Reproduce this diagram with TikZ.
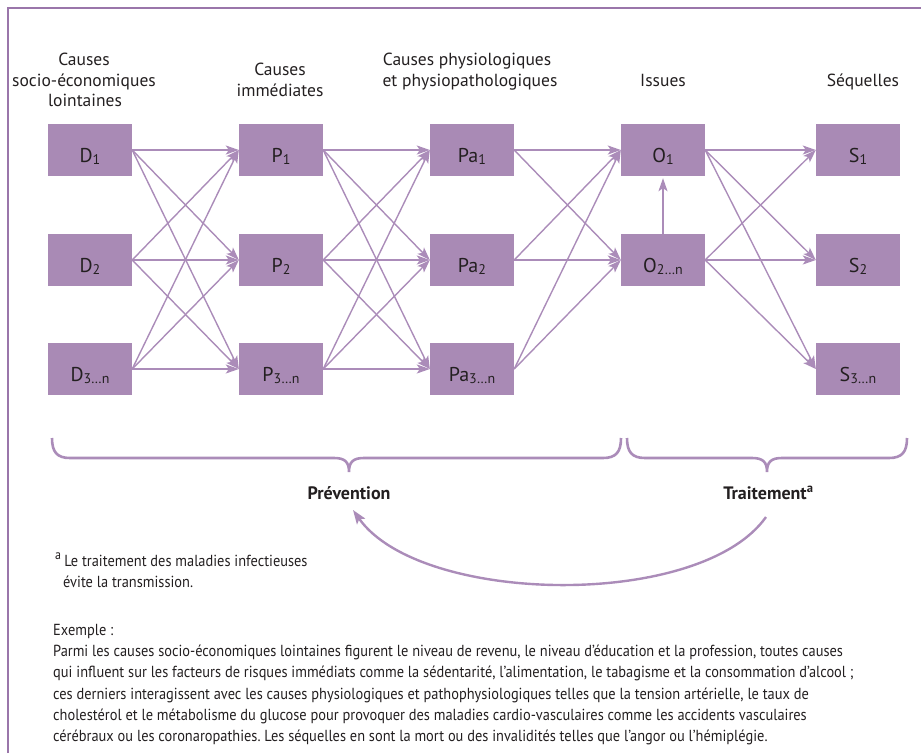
\documentclass[tikz,border=0pt]{standalone}
\usepackage{fontspec}
\setmainfont{PT Sans}
\newfontfamily\condfont[FakeStretch=0.9]{PT Sans}
\usetikzlibrary{arrows.meta}
\definecolor{purp}{HTML}{AB8CB9}
\definecolor{boxc}{HTML}{A98AB5}
\definecolor{framec}{HTML}{9A76AA}
\definecolor{txt}{HTML}{231F20}
\newcommand\subx[1]{\raisebox{-2pt}{\fontsize{14}{14}\selectfont #1}}
\frenchspacing
\tikzset{
  bx/.style={fill=boxc, minimum width=84pt, minimum height=52pt, inner sep=0pt,
    text height=24pt, text depth=0pt, font=\fontsize{20}{20}\selectfont, text=txt},
  hd/.style={anchor=base, inner sep=0pt, font=\fontsize{17.5}{20}\selectfont, text=txt},
  ar/.style={draw=purp, line width=1.4pt, -{Stealth[length=13pt,width=9pt,inset=3pt]}},
  brace/.style={draw=purp, line width=2.6pt},
  lbl/.style={anchor=base, inner sep=0pt, font=\bfseries\fontsize{18}{20}\selectfont, text=txt},
  body/.style={anchor=base west, inner sep=0pt, font=\condfont\fontsize{16}{20}\selectfont\frenchspacing, text=txt}
}
\begin{document}
\begin{tikzpicture}[x=1pt,y=-1pt]
\useasboundingbox (0,0) rectangle (921,753);
% frame
\draw[framec, line width=1.5pt] (8,753) -- (8,8) -- (921,8);
% headers
\node[hd] (h1a) at (84,65) {Causes};
\node[hd] (h1b) at (84,86) {socio-économiques};
\node[hd] (h1c) at (85,106) {lointaines};
\node[hd] (h2a) at (280,75) {Causes};
\node[hd] (h2b) at (280,96) {immédiates};
\node[hd] (h3a) at (467,65) {Causes physiologiques};
\node[hd] (h3b) at (470,86) {et physiopathologiques};
\node[hd] (h4) at (663,86) {Issues};
\node[hd] (h5) at (863,86) {Séquelles};
% boxes
\node[bx] (D1) at (90,150) {D\subx{1}};
\node[bx] (D2) at (90,260) {D\subx{2}};
\node[bx] (D3) at (90,369) {D\subx{3…n}};
\node[bx] (P1) at (281,150) {P\subx{1}};
\node[bx] (P2) at (281,260) {P\subx{2}};
\node[bx] (P3) at (281,369) {P\subx{3…n}};
\node[bx] (Pa1) at (472,150) {Pa\subx{1}};
\node[bx] (Pa2) at (472,260) {Pa\subx{2}};
\node[bx] (Pa3) at (472,369) {Pa\subx{3…n}};
\node[bx] (O1) at (663,150) {O\subx{1}};
\node[bx] (O2) at (663,260) {O\subx{2…n}};
\node[bx] (S1) at (858,150) {S\subx{1}};
\node[bx] (S2) at (858,260) {S\subx{2}};
\node[bx] (S3) at (858,369) {S\subx{3…n}};
% arrows
\foreach \a in {1,2,3}{\foreach \b in {1,2,3}{
  \draw[ar] (D\a.east) -- (P\b.west);
  \draw[ar] (P\a.east) -- (Pa\b.west);}}
\foreach \a in {1,2,3}{\foreach \b in {1,2}{
  \draw[ar] (Pa\a.east) -- (O\b.west);
  \draw[ar] (O\b.east) -- (S\a.west);}}
\draw[ar, shorten >=2pt] (O2.north) -- (O1.south);
% braces
\draw[brace] (52,438) .. controls (52,452) and (57,458) .. (70,458)
  -- (334,458) .. controls (345,458) and (349,462) .. (349,472)
  .. controls (349,462) and (353,458) .. (364,458)
  -- (603,458) .. controls (616,458) and (621,452) .. (621,438);
\draw[brace] (627,438) .. controls (627,452) and (632,458) .. (645,458)
  -- (752,458) .. controls (763,458) and (767,462) .. (767,472)
  .. controls (767,462) and (771,458) .. (782,458)
  -- (889,458) .. controls (902,458) and (907,452) .. (907,438);
\node[lbl] (prev) at (349,499) {Prévention};
\node[lbl] (trt) at (765,499) {Traitement\rlap{\textsuperscript{a}}};
\coordinate (arcS) at (766,517);
\coordinate (arcE) at (353,510);
\draw[draw=purp, line width=2.4pt, -{Stealth[length=14pt,width=10pt,inset=3pt]}]
  (arcS) .. controls (700,610) and (420,605) .. (arcE);
% footnote
\node[body] (fn1) at (55,566) {{\fontsize{19}{20}\selectfont\textsuperscript{a}}\,Le traitement des maladies infectieuses};
\node[body] (fn2) at (63,587) {évite la transmission.};
% example
\node[body] (ex0) at (53,635) {Exemple :};
\node[body] (ex1) at (53,656) {Parmi les causes socio-économiques lointaines figurent le niveau de revenu, le niveau d’éducation et la profession, toutes causes};
\node[body] (ex2) at (53,677) {qui influent sur les facteurs de risques immédiats comme la sédentarité, l’alimentation, le tabagisme et la consommation d’alcool ;};
\node[body] (ex3) at (53,699) {ces derniers interagissent avec les causes physiologiques et pathophysiologiques telles que la tension artérielle, le taux de};
\node[body] (ex4) at (53,720) {cholestérol et le métabolisme du glucose pour provoquer des maladies cardio-vasculaires comme les accidents vasculaires};
\node[body] (ex5) at (53,741) {cérébraux ou les coronaropathies. Les séquelles en sont la mort ou des invalidités telles que l’angor ou l’hémiplégie.};
\end{tikzpicture}
\end{document}
